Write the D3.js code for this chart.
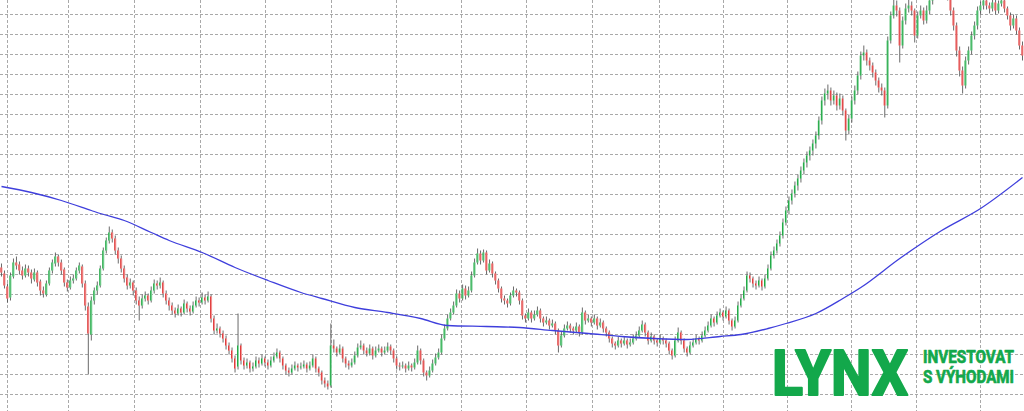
<!DOCTYPE html>
<html><head><meta charset="utf-8">
<script src="https://cdn.jsdelivr.net/npm/d3@7"></script>
<style>html,body{margin:0;padding:0;background:#fff;overflow:hidden}</style>
</head><body><svg id="c" width="1024" height="411"></svg>
<script>
// Daily OHLC values (price units), one entry per candle
const opens = [147,141,128,117,138,152,150,144,139,146,142,135,142,133,124,120,131,144,151,158,
152,145,132,127,134,136,144,148,131,108,80,114,124,129,146,164,174,182,176,164,
156,146,137,129,132,124,114,109,116,119,114,124,131,129,132,121,114,109,104,101,
106,102,111,106,103,109,114,112,117,114,118,96,84,86,81,76,69,64,56,48,
69,54,49,52,46,48,54,51,56,52,49,54,58,62,56,49,44,42,46,49,
47,48,50,46,49,56,46,42,34,31,29,69,66,62,66,56,51,49,52,59,
67,69,64,61,66,59,64,66,62,64,68,64,56,49,48,49,46,49,47,52,
64,54,42,39,44,51,57,62,76,86,96,102,109,121,116,126,119,124,139,152,
161,154,162,144,151,141,134,126,116,114,111,119,124,122,114,99,96,102,96,100,
104,96,92,94,89,91,84,69,79,86,89,86,84,88,82,102,94,96,92,96,
89,92,86,82,76,71,69,74,71,74,70,72,76,79,84,90,82,74,78,74,
72,76,74,71,64,59,74,82,74,66,62,69,72,76,74,79,84,89,96,92,
99,102,98,104,94,88,94,109,116,124,139,136,131,129,134,128,136,146,159,164,
171,179,192,204,214,221,229,236,244,252,259,264,271,279,294,314,321,324,314,319,
309,316,304,284,296,314,324,339,359,362,354,349,342,334,327,324,309,374,399,409,
404,369,394,406,409,404,379,399,404,394,404,414,422,429,434,432,426,419,404,389,
364,344,329,354,364,379,389,404,409,414,409,406,412,404,411,414,406,399,389,396,
384,369];
const highs = [151,144,131,142,156,158,153,148,150,149,145,146,144,135,128,134,147,155,162,160,
155,147,135,138,140,147,152,150,134,112,118,127,133,149,167,177,188,185,179,167,
159,149,140,136,134,127,118,120,123,121,128,135,134,137,134,124,117,112,107,110,
108,115,113,109,113,118,117,122,120,123,120,99,91,88,84,79,72,67,59,101,
71,57,56,54,52,58,57,60,58,55,58,62,66,64,58,51,47,50,53,51,
52,54,52,53,60,58,48,44,37,34,91,75,68,70,68,58,54,56,63,71,
74,71,67,70,68,68,70,68,68,72,70,66,58,52,53,51,53,51,56,69,
66,56,44,48,55,61,66,80,90,100,106,113,125,124,130,129,128,143,156,166,
164,165,164,155,153,143,136,128,119,116,122,128,126,124,116,101,106,104,104,108,
106,98,98,96,95,93,86,83,90,93,91,88,92,90,107,104,100,98,100,98,
96,94,88,84,78,73,78,76,78,76,76,80,83,88,94,92,84,82,80,76,
80,78,76,73,66,78,87,84,76,68,73,76,80,78,83,88,93,100,98,103,
106,104,108,106,96,98,113,120,128,143,142,138,134,138,136,140,150,163,168,175,
183,196,208,218,225,233,240,248,256,263,268,275,283,298,318,326,330,327,324,322,
321,319,306,300,318,329,343,363,369,365,357,352,345,337,331,327,378,403,418,414,
407,398,411,416,413,406,403,409,407,409,418,426,433,438,437,435,429,422,407,392,
368,348,358,368,383,393,408,413,418,417,412,416,415,414,418,416,408,402,400,399,
387,373];
const lows = [138,126,112,114,136,145,140,135,137,138,131,133,128,119,117,118,129,141,148,148,
140,128,123,125,131,134,141,127,104,40,74,110,120,127,144,161,171,172,160,151,
142,132,125,126,119,110,94,106,113,110,112,121,125,126,117,110,104,100,97,99,
98,100,102,99,101,107,108,110,110,112,92,80,81,77,72,65,60,52,42,45,
50,45,46,42,43,46,47,49,48,45,47,52,56,52,45,40,38,40,44,43,
45,46,42,44,47,42,38,30,27,25,27,62,58,60,52,47,45,47,50,57,
65,60,58,59,55,57,62,58,60,62,60,52,45,44,46,42,44,43,45,50,
50,38,34,37,42,49,55,60,74,84,94,100,107,112,114,115,117,122,137,150,
150,152,140,142,137,130,122,112,110,107,109,117,118,110,95,92,94,92,94,98,
92,88,90,85,87,80,62,67,77,84,82,80,82,78,80,90,92,88,90,85,
87,82,78,72,67,65,67,67,69,66,68,70,74,77,82,78,70,72,70,68,
70,70,67,60,55,57,72,70,62,58,60,67,70,70,72,77,82,87,88,90,
97,94,96,90,84,86,92,107,114,122,132,127,125,127,124,126,134,144,156,161,
168,176,189,200,210,217,224,232,240,247,254,259,266,275,290,309,315,309,310,304,
305,299,274,280,292,310,320,335,354,349,344,337,329,322,319,297,306,371,396,398,
352,366,390,402,399,372,376,396,390,391,400,410,418,425,427,421,414,399,384,358,
338,321,326,350,360,375,385,400,405,405,401,403,400,401,408,402,395,384,386,380,
365,354];
const closes = [142,129,116,139,152,149,144,139,146,142,136,142,132,124,121,131,144,152,158,152,
144,132,127,134,136,144,149,131,109,81,114,124,129,146,164,174,182,176,164,156,
146,136,129,132,124,114,109,116,119,114,124,131,129,132,121,114,109,104,101,106,
102,111,106,103,109,114,112,117,114,118,96,84,86,81,76,69,64,56,46,69,
54,49,52,46,48,54,51,56,52,49,54,58,62,56,49,44,42,46,49,47,
48,50,46,49,56,46,42,34,31,28,69,66,62,66,56,51,49,52,59,67,
69,64,61,66,59,64,66,62,64,68,64,56,49,48,49,46,49,47,52,64,
54,42,39,44,51,57,62,76,86,96,102,109,121,116,126,119,124,139,152,161,
154,162,144,151,141,134,126,116,114,111,119,124,122,114,99,96,102,96,100,104,
96,92,94,89,91,84,69,79,86,89,86,84,88,82,102,94,96,92,96,89,
92,86,82,76,71,69,74,71,74,70,72,76,79,84,90,82,74,78,74,72,
76,74,71,64,59,74,82,74,66,62,69,72,76,74,79,84,89,96,92,99,
102,98,104,94,88,94,109,116,124,139,136,131,129,134,128,136,146,159,164,171,
179,192,204,214,221,229,236,244,252,259,264,271,279,294,314,321,324,314,319,309,
316,304,284,296,314,324,339,359,362,354,349,342,334,327,324,309,374,399,409,404,
369,394,406,409,404,379,399,404,394,404,414,422,429,434,432,426,419,404,389,364,
344,329,354,364,379,389,404,409,414,409,406,412,404,411,414,406,399,389,396,384,
369,359];

// Moving average (sampled at candle indices)
const maIdx  = [0,10,20,30,33,41,50,56,67,78,89,100,107,118,129,140,149,162,173,184,196,207,218,229,240,247,256,262,272,281,287,300,314,327,341];
const maVals = [228,222,214,204,201,194,182,174,162,147,134,122,116,107,102,96,89,88,87,84,81,78,76,75,78,80,86,91,101,116,127,156,184,206,237];

// Grid ticks
const gridX = [1.8,22.2,44.3,66.3,88,110,131.8,153.5,175.2,197.2,219.6,241,262.4,283.7,305.4,326.8];
const gridY = [20,40,60,80,100,120,140,160,180,200,220,240,260,280,300,320,340,360,380,400];

// Logo texts
const logoMain = "LYNX";
const logoLines = ["INVESTOVAT","S VÝHODAMI"];

const W = 1024, H = 411;
const N = closes.length;
const svg = d3.select("#c");
const x = d3.scaleLinear().domain([-0.5, N - 0.5]).range([0, W]);
const y = d3.scaleLinear().domain([3.5, 414.5]).range([H, 0]);

// grid
const g = svg.append("g").attr("stroke", "#a9a9a9").attr("stroke-width", 1).attr("stroke-dasharray", "3,2");
g.selectAll("line.h").data(gridY).join("line").attr("class","h")
  .attr("x1", 0).attr("x2", W)
  .attr("y1", d => Math.round(y(d) - 0.5) + 0.5).attr("y2", d => Math.round(y(d) - 0.5) + 0.5);
g.selectAll("line.v").data(gridX).join("line").attr("class","v")
  .attr("y1", 0).attr("y2", H)
  .attr("x1", d => Math.round(x(d)) + 0.5).attr("x2", d => Math.round(x(d)) + 0.5);

// candles
const data = closes.map((c, i) => ({ i, o: opens[i], h: highs[i], l: lows[i], c }));
const cg = svg.append("g");
const cand = cg.selectAll("g").data(data).join("g");
cand.append("line")
  .attr("x1", d => x(d.i)).attr("x2", d => x(d.i))
  .attr("y1", d => y(d.h)).attr("y2", d => y(d.l))
  .attr("stroke", "#505050").attr("stroke-width", 1).attr("stroke-opacity", 0.85);
cand.append("rect")
  .attr("x", d => x(d.i) - 1)
  .attr("width", 2)
  .attr("y", d => y(Math.max(d.o, d.c)))
  .attr("height", d => Math.max(1, Math.abs(y(d.o) - y(d.c))))
  .attr("fill", d => d.c >= d.o ? "#8ad8a2" : "#f29a9a");
cand.append("line")
  .attr("x1", d => x(d.i) - 0.5).attr("x2", d => x(d.i) - 0.5)
  .attr("y1", d => y(Math.max(d.o, d.c))).attr("y2", d => y(Math.min(d.o, d.c)))
  .attr("stroke", d => d.c >= d.o ? "#22a845" : "#e03a3a").attr("stroke-width", 1);

// moving average
const maData = maIdx.map((k, j) => [k, maVals[j]]);
svg.append("path").datum(maData)
  .attr("fill", "none").attr("stroke", "#3f3fdc").attr("stroke-width", 1.3)
  .attr("d", d3.line().x(d => x(d[0])).y(d => y(d[1])).curve(d3.curveMonotoneX));

// logo (condensed bold: natural text scaled horizontally to the target width)
const green = "#13a84b";
function fitText(txt, left, base, size, width, stroke) {
  const t = svg.append("text").attr("x", 0).attr("y", 0)
    .attr("font-family", "Roboto, 'Liberation Sans', sans-serif").attr("font-weight", 700)
    .attr("font-size", size).attr("fill", green)
    .attr("stroke", green).attr("stroke-width", stroke).attr("stroke-linejoin", "round")
    .text(txt);
  const w = t.node().getComputedTextLength();
  t.attr("transform", `translate(${left},${base}) scale(${width / w},1)`);
}
fitText(logoMain, 772, 395, 62, 136, 2.2);
logoLines.forEach((d, k) => fitText(d, 923, 363 + k * 20, 17.5, 91, 0.7));
</script></body></html>
